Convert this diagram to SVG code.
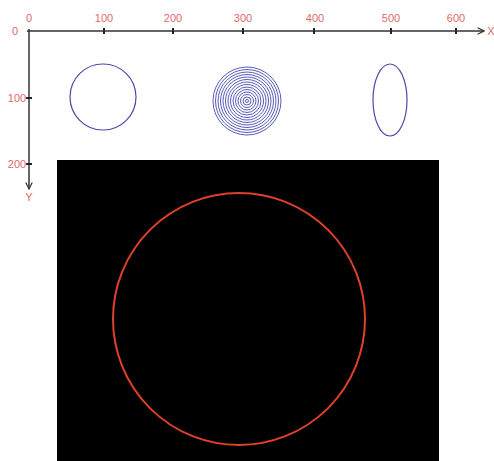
<svg xmlns="http://www.w3.org/2000/svg" width="494" height="461" viewBox="0 0 494 461">
<defs>
<style>
.lbl{font-family:"Liberation Sans",Arial,sans-serif;font-size:11px;fill:#e06a6a}
.axis{stroke:#333;stroke-width:1.5;fill:none}
.tick{stroke:#222;stroke-width:2}
.blue{fill:none;stroke:#4a4aa8;stroke-width:1.2}
.conc{fill:none;stroke:#5a5ab8;stroke-width:1}
</style>
<marker id="arr" viewBox="0 0 10 10" refX="9" refY="5" markerWidth="8" markerHeight="8" orient="auto" markerUnits="userSpaceOnUse">
<path d="M1,1 L9,5 L1,9" fill="none" stroke="#333" stroke-width="1.5"/>
</marker>
</defs>
<rect width="494" height="461" fill="#ffffff"/>
<g id="axes">
<line class="axis" x1="27" y1="31" x2="484" y2="31" marker-end="url(#arr)"/>
<line class="axis" x1="29" y1="29" x2="29" y2="189" marker-end="url(#arr)"/>
<g class="tick">
<line x1="104" y1="28" x2="104" y2="34"/>
<line x1="173" y1="28" x2="173" y2="34"/>
<line x1="243" y1="28" x2="243" y2="34"/>
<line x1="314" y1="28" x2="314" y2="34"/>
<line x1="391" y1="28" x2="391" y2="34"/>
<line x1="456" y1="28" x2="456" y2="34"/>
<line x1="26" y1="98" x2="32" y2="98"/>
<line x1="26" y1="164" x2="32" y2="164"/>
</g>
<g class="lbl" text-anchor="middle">
<text x="29" y="22">0</text>
<text x="104" y="22">100</text>
<text x="173" y="22">200</text>
<text x="243" y="22">300</text>
<text x="315" y="22">400</text>
<text x="391" y="22">500</text>
<text x="456" y="22">600</text>
<text x="15" y="35">0</text>
<text x="17" y="102">100</text>
<text x="17" y="168">200</text>
<text x="29" y="201">Y</text>
<text x="491" y="35">X</text>
</g>
</g>
<g id="circle1"><circle class="blue" cx="103" cy="97" r="33"/></g>
<g id="circle2">
<circle class="conc" cx="247" cy="101" r="34"/>
<circle class="conc" cx="247" cy="101" r="31.5"/>
<circle class="conc" cx="247" cy="101" r="29"/>
<circle class="conc" cx="247" cy="101" r="26.5"/>
<circle class="conc" cx="247" cy="101" r="24"/>
<circle class="conc" cx="247" cy="101" r="21.5"/>
<circle class="conc" cx="247" cy="101" r="19"/>
<circle class="conc" cx="247" cy="101" r="16.5"/>
<circle class="conc" cx="247" cy="101" r="14"/>
<circle class="conc" cx="247" cy="101" r="11.5"/>
<circle class="conc" cx="247" cy="101" r="9"/>
<circle class="conc" cx="247" cy="101" r="6.5"/>
<circle class="conc" cx="247" cy="101" r="4"/>
<circle class="conc" cx="247" cy="101" r="1.5"/>
</g>
<g id="ellipse1"><ellipse class="blue" cx="390" cy="100" rx="17" ry="36"/></g>
<g id="screen">
<rect x="57" y="160" width="382" height="301" fill="#000"/>
<circle cx="239" cy="319" r="126" fill="none" stroke="#e0402a" stroke-width="2"/>
</g>
</svg>
